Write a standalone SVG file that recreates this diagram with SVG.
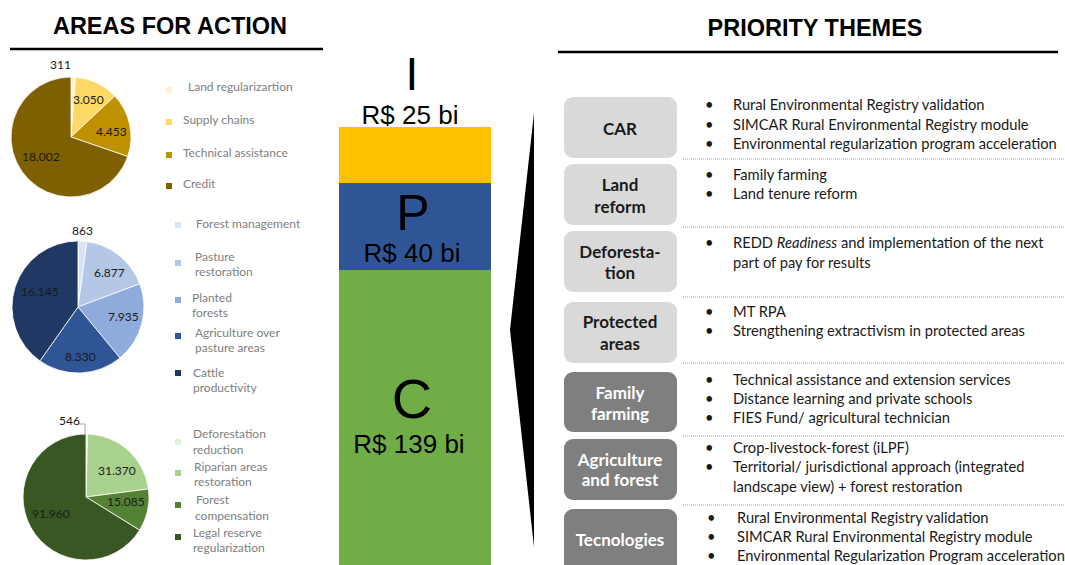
<svg xmlns="http://www.w3.org/2000/svg" width="1065" height="565" viewBox="0 0 1065 565">
<defs>
<style>
.title{font-family:"Liberation Sans",Arial,sans-serif;font-weight:bold;font-size:23.5px;fill:#000;text-anchor:middle}
.rule{stroke:#000;stroke-width:2.5}
.pl{font-family:Lato,"Liberation Sans",sans-serif;font-size:12px;fill:#1a1a1a}
.lg{font-family:Lato,"Liberation Sans",sans-serif;font-size:12px;fill:#808080}
.sl{stroke:#fff;stroke-width:0.8}
.bar{font-family:"Liberation Sans",Arial,sans-serif;fill:#000;text-anchor:middle}
.box1{fill:#d9d9d9}
.box2{fill:#7f7f7f}
.bl1{font-family:Lato,"Liberation Sans",sans-serif;font-weight:bold;font-size:17px;fill:#1a1a1a;text-anchor:middle}
.bl2{font-family:Lato,"Liberation Sans",sans-serif;font-weight:bold;font-size:17px;fill:#fff;text-anchor:middle}
.it{font-family:Lato,"Liberation Sans",sans-serif;font-size:14.7px;fill:#1a1a1a}
.sep{stroke:#999;stroke-width:1;stroke-dasharray:1 1}
</style>
</defs>
<rect width="1065" height="565" fill="#fff"/>

<!-- Headers -->
<g id="header-left">
<text class="title" x="170" y="34">AREAS FOR ACTION</text>
<line class="rule" x1="10" y1="49" x2="323" y2="49"/>
</g>
<g id="header-right">
<text class="title" x="815" y="36">PRIORITY THEMES</text>
<line class="rule" x1="558" y1="52" x2="1058" y2="52"/>
</g>

<!-- Pie 1 -->
<g id="pie-1">
<path class="sl" fill="#fff2cc" d="M71,137 L71,77 A60,60 0 0 1 75.54,77.17 Z"/>
<path class="sl" fill="#ffd966" d="M71,137 L75.54,77.17 A60,60 0 0 1 114.79,95.98 Z"/>
<path class="sl" fill="#bf9000" d="M71,137 L114.79,95.98 A60,60 0 0 1 127.74,156.5 Z"/>
<path class="sl" fill="#7f6000" d="M71,137 L127.74,156.5 A60,60 0 1 1 71,77 Z"/>
<text class="pl" x="50" y="69">311</text>
<text class="pl" x="73" y="104">3.050</text>
<text class="pl" x="96" y="136">4.453</text>
<text class="pl" x="22" y="161">18.002</text>
<rect x="166" y="87" width="6" height="6" fill="#fff2cc"/>
<text class="lg" x="188" y="91">Land regularizartion</text>
<rect x="166" y="119" width="6" height="6" fill="#ffd966"/>
<text class="lg" x="183" y="124">Supply chains</text>
<rect x="166" y="152" width="6" height="6" fill="#bf9000"/>
<text class="lg" x="183" y="157">Technical assistance</text>
<rect x="166" y="183" width="6" height="6" fill="#7f6000"/>
<text class="lg" x="183" y="188">Credit</text>
</g>

<!-- Pie 2 -->
<g id="pie-2">
<path class="sl" fill="#dae3f3" d="M78,307 L78,241 A66,66 0 0 1 86.89,241.6 Z"/>
<path class="sl" fill="#b4c7e7" d="M78,307 L86.89,241.6 A66,66 0 0 1 139.78,283.78 Z"/>
<path class="sl" fill="#8faadc" d="M78,307 L139.78,283.78 A66,66 0 0 1 119.93,357.97 Z"/>
<path class="sl" fill="#2f5597" d="M78,307 L119.93,357.97 A66,66 0 0 1 39.91,360.9 Z"/>
<path class="sl" fill="#203864" d="M78,307 L39.91,360.9 A66,66 0 0 1 78,241 Z"/>
<text class="pl" x="72" y="235">863</text>
<text class="pl" x="94" y="277">6.877</text>
<text class="pl" x="108" y="321">7.935</text>
<text class="pl" x="65" y="361">8.330</text>
<text class="pl" x="21" y="296">16.145</text>
<rect x="175" y="222" width="6" height="6" fill="#dae3f3"/>
<text class="lg" x="196" y="228">Forest management</text>
<rect x="175" y="260" width="6" height="6" fill="#b4c7e7"/>
<text class="lg" x="195" y="261">Pasture</text>
<text class="lg" x="195" y="276">restoration</text>
<rect x="175" y="297" width="6" height="6" fill="#8faadc"/>
<text class="lg" x="192" y="302">Planted</text>
<text class="lg" x="192" y="317">forests</text>
<rect x="175" y="333" width="6" height="6" fill="#2f5597"/>
<text class="lg" x="195" y="337">Agriculture over</text>
<text class="lg" x="195" y="352">pasture areas</text>
<rect x="175" y="370" width="6" height="6" fill="#203864"/>
<text class="lg" x="193" y="377">Cattle</text>
<text class="lg" x="193" y="392">productivity</text>
</g>

<!-- Pie 3 -->
<g id="pie-3">
<path class="sl" fill="#e2f0d9" d="M86,497 L86,434 A63,63 0 0 1 87.55,434.02 Z"/>
<path class="sl" fill="#a9d18e" d="M86,497 L87.55,434.02 A63,63 0 0 1 148.49,488.97 Z"/>
<path class="sl" fill="#548235" d="M86,497 L148.49,488.97 A63,63 0 0 1 139.57,530.16 Z"/>
<path class="sl" fill="#385723" d="M86,497 L139.57,530.16 A63,63 0 1 1 86,434 Z"/>
<polyline points="77.5,424 85,424 85,434" fill="none" stroke="#a6a6a6" stroke-width="1"/>
<text class="pl" x="59" y="425">546</text>
<text class="pl" x="98" y="475">31.370</text>
<text class="pl" x="107" y="506">15.085</text>
<text class="pl" x="32" y="518">91.960</text>
<rect x="175" y="439" width="6" height="6" fill="#e2f0d9"/>
<text class="lg" x="193" y="438">Deforestation</text>
<text class="lg" x="193" y="454">reduction</text>
<rect x="175" y="470" width="6" height="6" fill="#a9d18e"/>
<text class="lg" x="194" y="471">Riparian areas</text>
<text class="lg" x="194" y="486">restoration</text>
<rect x="175" y="502" width="6" height="6" fill="#548235"/>
<text class="lg" x="196" y="504">Forest</text>
<text class="lg" x="195" y="520">compensation</text>
<rect x="175" y="534" width="6" height="6" fill="#385723"/>
<text class="lg" x="193" y="537">Legal reserve</text>
<text class="lg" x="193" y="552">regularization</text>
</g>

<!-- Central bar -->
<g id="bar-I">
<text class="bar" x="412" y="90" font-size="46">I</text>
<text class="bar" x="410" y="124" font-size="26">R$ 25 bi</text>
<rect x="339" y="127" width="152" height="56" fill="#ffc000"/>
</g>
<g id="bar-P">
<rect x="339" y="183" width="152" height="87" fill="#2f5597"/>
<text class="bar" x="413" y="230" font-size="50">P</text>
<text class="bar" x="412" y="262" font-size="26">R$ 40 bi</text>
</g>
<g id="bar-C">
<rect x="339" y="270" width="152" height="295" fill="#70ad47"/>
<text class="bar" x="412" y="418" font-size="56">C</text>
<text class="bar" x="409" y="453" font-size="26">R$ 139 bi</text>
</g>

<g id="connectors">
<path d="M534,113 L510,330 L534,547 Z" fill="#000"/>
<line class="sep" x1="683" y1="159" x2="1065" y2="159"/>
<line class="sep" x1="683" y1="227" x2="1065" y2="227"/>
<line class="sep" x1="683" y1="297" x2="1065" y2="297"/>
<line class="sep" x1="683" y1="363" x2="1065" y2="363"/>
<line class="sep" x1="683" y1="436" x2="1065" y2="436"/>
<line class="sep" x1="683" y1="505" x2="1065" y2="505"/>
</g>

<!-- Priority themes -->
<g id="theme-car">
<rect class="box1" x="564" y="97" width="113" height="61" rx="9"/>
<text class="bl1" x="620" y="135">CAR</text>
<text class="it" x="705" y="110">•</text><text class="it" x="733" y="110">Rural Environmental Registry validation</text>
<text class="it" x="705" y="130">•</text><text class="it" x="733" y="130">SIMCAR Rural Environmental Registry module</text>
<text class="it" x="705" y="149">•</text><text class="it" x="733" y="149">Environmental regularization program acceleration</text>
</g>
<g id="theme-land">
<rect class="box1" x="564" y="164" width="113" height="61" rx="9"/>
<text class="bl1" x="620" y="191">Land</text>
<text class="bl1" x="620" y="213">reform</text>
<text class="it" x="705" y="180">•</text><text class="it" x="733" y="180">Family farming</text>
<text class="it" x="705" y="199">•</text><text class="it" x="733" y="199">Land tenure reform</text>
</g>
<g id="theme-deforestation">
<rect class="box1" x="564" y="231" width="113" height="61" rx="9"/>
<text class="bl1" x="620" y="258">Deforesta-</text>
<text class="bl1" x="620" y="279">tion</text>
<text class="it" x="705" y="248">•</text><text class="it" x="733" y="248">REDD <tspan font-style="italic">Readiness</tspan> and implementation of the next</text>
<text class="it" x="733" y="268">part of pay for results</text>
</g>
<g id="theme-protected">
<rect class="box1" x="564" y="302" width="113" height="61" rx="9"/>
<text class="bl1" x="620" y="328">Protected</text>
<text class="bl1" x="620" y="350">areas</text>
<text class="it" x="705" y="317">•</text><text class="it" x="733" y="317">MT RPA</text>
<text class="it" x="705" y="336">•</text><text class="it" x="733" y="336">Strengthening extractivism in protected areas</text>
</g>
<g id="theme-family">
<rect class="box2" x="564" y="372" width="113" height="60" rx="9"/>
<text class="bl2" x="620" y="399">Family</text>
<text class="bl2" x="620" y="420">farming</text>
<text class="it" x="705" y="385">•</text><text class="it" x="733" y="385">Technical assistance and extension services</text>
<text class="it" x="705" y="404">•</text><text class="it" x="733" y="404">Distance learning and private schools</text>
<text class="it" x="705" y="423">•</text><text class="it" x="733" y="423">FIES Fund/ agricultural technician</text>
</g>
<g id="theme-agriculture">
<rect class="box2" x="564" y="439" width="113" height="61" rx="9"/>
<text class="bl2" x="620" y="466">Agriculture</text>
<text class="bl2" x="620" y="486">and forest</text>
<text class="it" x="705" y="453">•</text><text class="it" x="733" y="453">Crop-livestock-forest (iLPF)</text>
<text class="it" x="705" y="472">•</text><text class="it" x="733" y="472">Territorial/ jurisdictional approach (integrated</text>
<text class="it" x="733" y="492">landscape view) + forest restoration</text>
</g>
<g id="theme-tech">
<rect class="box2" x="564" y="509" width="113" height="66" rx="9"/>
<text class="bl2" x="620" y="546">Tecnologies</text>
<text class="it" x="707" y="523">•</text><text class="it" x="737" y="523">Rural Environmental Registry validation</text>
<text class="it" x="707" y="542">•</text><text class="it" x="737" y="542">SIMCAR Rural Environmental Registry module</text>
<text class="it" x="707" y="561">•</text><text class="it" x="737" y="561">Environmental Regularization Program acceleration</text>
</g>
</svg>
